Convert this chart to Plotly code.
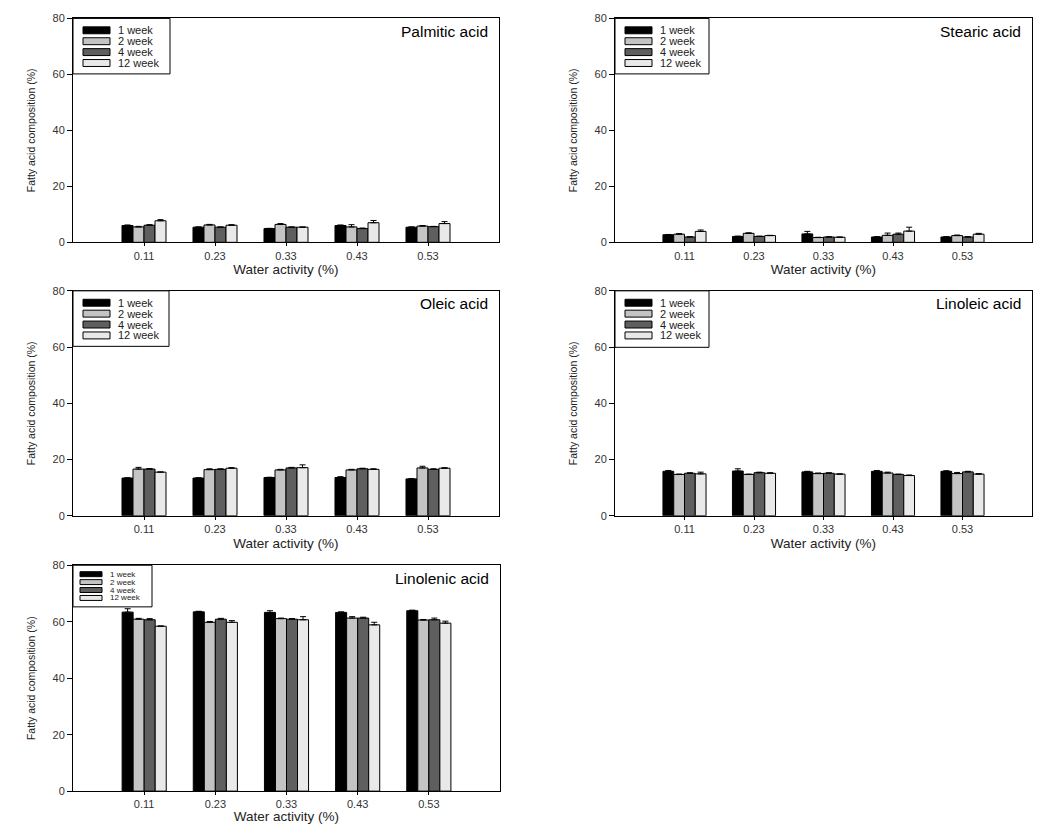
import plotly.graph_objects as go

categories = ["0.11", "0.23", "0.33", "0.43", "0.53"]
weeks = ["1 week", "2 week", "4 week", "12 week"]
colors = ["#000000", "#c4c4c4", "#5f5f5f", "#e9e9e9"]

palmitic = [[6.0, 5.4, 4.9, 6.0, 5.4],
            [5.5, 6.2, 6.4, 5.5, 5.8],
            [6.1, 5.4, 5.4, 4.9, 5.6],
            [7.7, 6.1, 5.4, 7.0, 6.7]]
palmitic_err = [[0.2, 0.1, 0.1, 0.2, 0.1],
                [0.2, 0.2, 0.3, 0.8, 0.2],
                [0.2, 0.1, 0.1, 0.2, 0.1],
                [0.4, 0.2, 0.1, 0.8, 0.7]]

stearic = [[2.7, 2.1, 3.0, 1.9, 1.9],
           [2.9, 3.2, 1.7, 2.5, 2.4],
           [1.9, 2.1, 1.9, 2.9, 1.9],
           [3.9, 2.4, 1.8, 4.0, 2.9]]
stearic_err = [[0.1, 0.1, 0.9, 0.1, 0.1],
               [0.2, 0.2, 0.1, 0.8, 0.2],
               [0.1, 0.1, 0.1, 0.4, 0.1],
               [0.5, 0.1, 0.1, 1.4, 0.3]]

oleic = [[13.4, 13.4, 13.6, 13.6, 13.1],
         [16.6, 16.4, 16.3, 16.3, 17.0],
         [16.6, 16.5, 17.0, 16.7, 16.5],
         [15.5, 16.9, 17.1, 16.5, 16.9]]
oleic_err = [[0.1, 0.1, 0.1, 0.3, 0.1],
             [0.6, 0.3, 0.2, 0.2, 0.6],
             [0.2, 0.2, 0.2, 0.2, 0.2],
             [0.1, 0.2, 1.0, 0.2, 0.2]]

linoleic = [[15.8, 15.9, 15.6, 15.8, 15.8],
            [14.7, 14.7, 15.0, 15.2, 15.0],
            [15.1, 15.3, 15.1, 14.7, 15.6],
            [14.9, 15.1, 14.8, 14.3, 14.8]]
linoleic_err = [[0.3, 0.8, 0.2, 0.3, 0.2],
                [0.1, 0.1, 0.2, 0.3, 0.4],
                [0.2, 0.2, 0.2, 0.1, 0.2],
                [0.6, 0.2, 0.1, 0.2, 0.2]]

linolenic = [[63.4, 63.5, 63.3, 63.3, 63.9],
             [60.9, 59.8, 61.1, 61.3, 60.6],
             [60.7, 60.9, 60.9, 61.3, 60.7],
             [58.4, 59.8, 60.7, 58.9, 59.5]]
linolenic_err = [[1.2, 0.2, 0.6, 0.2, 0.2],
                 [0.3, 0.3, 0.2, 0.5, 0.2],
                 [0.4, 0.3, 0.2, 0.3, 0.6],
                 [0.1, 0.6, 1.1, 0.9, 0.7]]

y_ticks = [0, 20, 40, 60, 80]

OFF = 8  # page body margin
W, H = 1051 - 2 * OFF, 832 - 2 * OFF
# name, values, errors, x px range, y px range (top, bottom), legend size (w, h, row step, font)
panels = [
    ("Palmitic acid", palmitic, palmitic_err, (73, 499), (12, 238), (97, 56, 11, 10)),
    ("Stearic acid", stearic, stearic_err, (615, 1032), (12, 238), (94, 56, 11, 10)),
    ("Oleic acid", oleic, oleic_err, (73, 499), (287, 514), (96, 56, 11, 10)),
    ("Linoleic acid", linoleic, linoleic_err, (615, 1032), (287, 514), (94, 57, 11, 10)),
    ("Linolenic acid", linolenic, linolenic_err, (73, 500), (564, 792), (79, 42, 8, 7)),
]

def px(x):
    return (x - OFF) / W

def py(y):
    fy = 4.5 + (y - 12) * 786.2 / 780
    return min(1.0, max(0.0, 1 - fy / H))

fig = go.Figure()
layout = dict(
    width=W, height=H, margin=dict(l=0, r=0, t=0, b=0),
    paper_bgcolor="white", plot_bgcolor="white",
    barmode="group", bargap=0.38, bargroupgap=0.0,
    font=dict(family="Arial, Liberation Sans", color="#222"),
    showlegend=False,
    annotations=[], shapes=[],
)

for i, (name, vals, errs, (x0, x1), (yt, yb), (lw, lh, step, lfs)) in enumerate(panels):
    k = i + 1
    xa = "x" if k == 1 else f"x{k}"
    ya = "y" if k == 1 else f"y{k}"
    for s in range(4):
        fig.add_trace(go.Bar(
            x=categories, y=vals[s], name=weeks[s],
            marker=dict(color=colors[s], line=dict(color="black", width=1)),
            error_y=dict(type="data", array=errs[s], arrayminus=[0]*5, symmetric=False,
                         color="black", thickness=1, width=3),
            xaxis=xa, yaxis=ya,
        ))
    dx = [px(x0), px(x1)]
    dy = [py(yb), py(yt)]
    layout["xaxis" if k == 1 else f"xaxis{k}"] = dict(
        domain=dx, anchor=ya, type="category", range=[-1, 5],
        showline=True, linecolor="black", linewidth=1, mirror=True,
        ticks="outside", ticklen=3, tickcolor="black",
        tickfont=dict(size=11, color="#333"),
        title=dict(text="Water activity (%)", font=dict(size=13.5, color="#222"), standoff=4),
        showgrid=False, zeroline=False,
    )
    layout["yaxis" if k == 1 else f"yaxis{k}"] = dict(
        domain=dy, anchor=xa, range=[0, 80], tickvals=y_ticks,
        showline=True, linecolor="black", linewidth=1, mirror=True,
        ticks="outside", ticklen=5, tickcolor="black",
        tickfont=dict(size=11, color="#333"),
        title=dict(text="Fatty acid composition (%)", font=dict(size=10.5, color="#222"), standoff=14),
        showgrid=False, zeroline=False,
    )
    # legend box
    layout["shapes"].append(dict(
        type="rect", xref="paper", yref="paper",
        x0=px(x0), x1=px(x0 + lw), y0=py(yt + lh), y1=py(yt),
        line=dict(color="black", width=1), fillcolor="white", layer="above",
    ))
    sw0 = x0 + (10 if lfs >= 10 else 7)
    sw1 = sw0 + (27 if lfs >= 10 else 22)
    sh = 3.5 if lfs >= 10 else 2.5
    first = yt + (12 if lfs >= 10 else 9)
    for s in range(4):
        cy = first + s * step
        layout["shapes"].append(dict(
            type="rect", xref="paper", yref="paper",
            x0=px(sw0), x1=px(sw1), y0=py(cy + sh), y1=py(cy - sh),
            line=dict(color="black", width=1), fillcolor=colors[s], layer="above",
        ))
        layout["annotations"].append(dict(
            text=weeks[s], xref="paper", yref="paper",
            x=px(sw1 + 6), y=py(cy), xanchor="left", yanchor="middle",
            showarrow=False, font=dict(size=lfs + 1, color="#222"),
        ))
    layout["annotations"].append(dict(
        text=name, xref="paper", yref="paper",
        x=px(x1 - 9), y=py(yt + 13), xanchor="right", yanchor="middle", showarrow=False,
        font=dict(size=15.5, color="black"),
    ))

fig.update_layout(**layout)
fig.write_html("out.html")
